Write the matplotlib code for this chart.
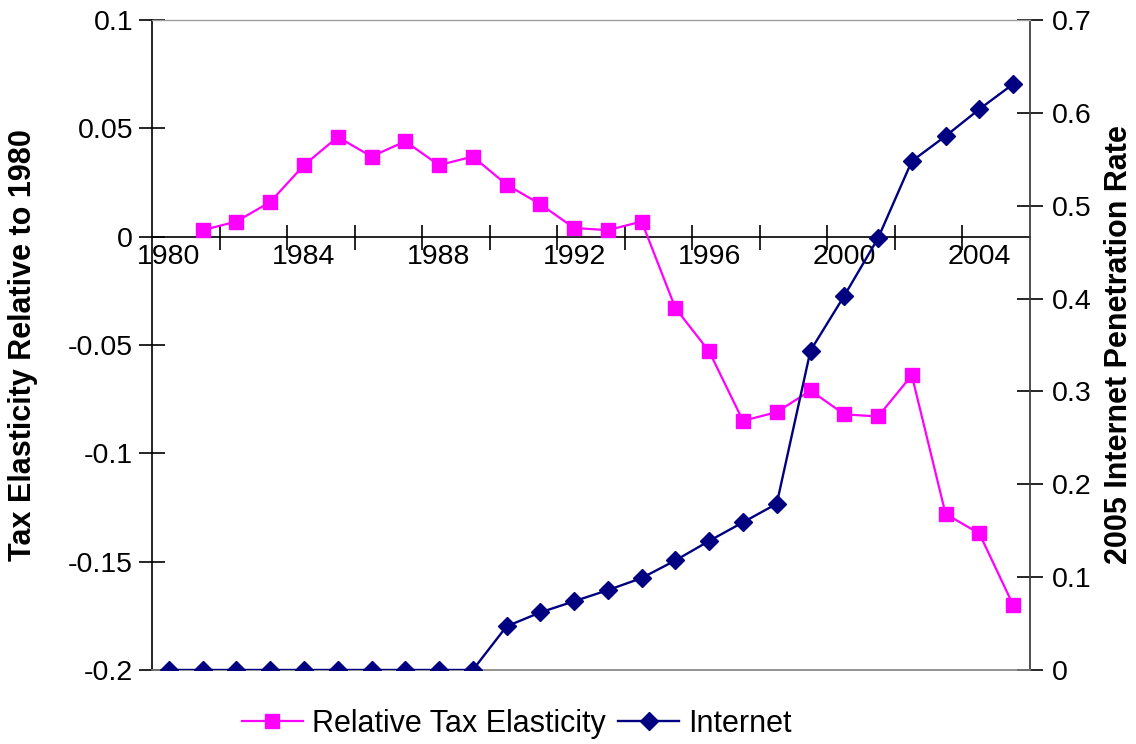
import numpy as np
import matplotlib.pyplot as plt
from matplotlib.ticker import FixedLocator

plt.rcParams['font.family'] = ['Liberation Sans', 'DejaVu Sans']

# data
years_tax = list(range(1981, 2006))
tax_elasticity = [0.003, 0.007, 0.016, 0.033, 0.046, 0.037, 0.044, 0.033, 0.037,
                  0.024, 0.015, 0.004, 0.003, 0.007, -0.033, -0.053, -0.085,
                  -0.081, -0.071, -0.082, -0.083, -0.064, -0.128, -0.137, -0.170]

years_net = list(range(1980, 2006))
internet = [0, 0, 0, 0, 0, 0, 0, 0, 0, 0,
            0.047, 0.062, 0.074, 0.086, 0.099, 0.118, 0.139, 0.159, 0.179,
            0.344, 0.403, 0.465, 0.548, 0.575, 0.604, 0.631]

label_years = [1980, 1984, 1988, 1992, 1996, 2000, 2004]
left_ticks = [-0.2, -0.15, -0.1, -0.05, 0, 0.05, 0.1]
left_labels = ['-0.2', '-0.15', '-0.1', '-0.05', '0', '0.05', '0.1']
right_ticks = [0, 0.1, 0.2, 0.3, 0.4, 0.5, 0.6, 0.7]
right_labels = ['0', '0.1', '0.2', '0.3', '0.4', '0.5', '0.6', '0.7']

magenta = '#FF00FF'
navy = '#000080'
fs = 20.5

fig = plt.figure(figsize=(11.36, 7.44), dpi=100)
ax = fig.add_axes([0.1338, 0.0995, 0.9067 - 0.1338, 0.9731 - 0.0995])

l1, = ax.plot(years_tax, tax_elasticity, color=magenta, lw=1.6, marker='s',
              markersize=9.5, label='Relative Tax Elasticity', zorder=3)
ax.set_xlim(1979.5, 2005.5)
ax.set_ylim(-0.2, 0.1)

ax.spines['top'].set_visible(False)
ax.spines['right'].set_visible(False)
ax.spines['bottom'].set_position(('data', 0))
ax.spines['bottom'].set_linewidth(1.2)
ax.spines['left'].set_linewidth(1.2)

ax.set_yticks(left_ticks)
ax.set_yticklabels(left_labels, fontsize=fs)
ax.tick_params(axis='y', direction='inout', length=19, width=1.2, pad=4)

ax.xaxis.set_major_locator(FixedLocator(label_years))
ax.set_xticklabels([str(y) for y in label_years], fontsize=fs)
ax.xaxis.set_minor_locator(FixedLocator(np.arange(1981.5, 2005, 2)))
ax.tick_params(axis='x', which='major', length=0, pad=5)
ax.tick_params(axis='x', which='minor', direction='inout', length=18, width=1.2)

ax.set_ylabel('Tax Elasticity Relative to 1980', fontsize=22, fontweight='bold',
              labelpad=22)

ax2 = ax.twinx()
l2, = ax2.plot(years_net, internet, color=navy, lw=1.7, marker='D',
               markersize=9, label='Internet', zorder=3)
ax2.set_ylim(0, 0.7)
ax2.set_xlim(1979.5, 2005.5)
ax2.spines['top'].set_color('#A0A0A0')
ax2.spines['top'].set_linewidth(1.0)
ax2.spines['left'].set_visible(False)
ax2.spines['bottom'].set_color('#808080')
ax2.spines['bottom'].set_linewidth(1.2)
ax2.spines['right'].set_color('#404040')
ax2.spines['right'].set_linewidth(1.3)
ax2.set_yticks(right_ticks)
ax2.set_yticklabels(right_labels, fontsize=fs)
ax2.tick_params(axis='y', direction='inout', length=19, width=1.2, pad=6)
ax2.set_ylabel('2005 Internet Penetration Rate', fontsize=22, fontweight='bold',
               labelpad=9)

fig.legend([l1, l2], ['Relative Tax Elasticity', 'Internet'], loc='lower center',
           bbox_to_anchor=(0.455, -0.03), ncol=2, frameon=False, fontsize=22,
           handlelength=2.0, handletextpad=0.3, columnspacing=0.4)

fig.savefig('out.png', dpi=100)
